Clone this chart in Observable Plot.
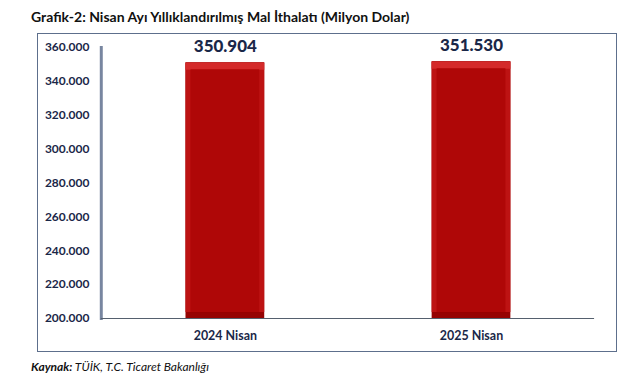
<!DOCTYPE html>
<html><head><meta charset="utf-8">
<script src="https://cdn.jsdelivr.net/npm/d3@7"></script>
<script src="https://cdn.jsdelivr.net/npm/@observablehq/plot@0.6"></script>
<style>
body{margin:0;background:#fff;font-family:Lato,"Open Sans",sans-serif;}
#title{position:absolute;left:31px;top:8px;font-size:14px;font-weight:bold;color:#111;white-space:nowrap;}
#box{position:absolute;left:37px;top:33px;width:580px;height:319px;border:1.5px solid #5d6f8c;box-sizing:border-box;}
#box svg{display:block;}
#caption{position:absolute;left:31px;top:359px;font-size:12px;font-style:italic;color:#111;white-space:nowrap;}
</style></head>
<body>
<div id="title">Grafik-2: Nisan Ayı Yıllıklandırılmış Mal İthalatı (Milyon Dolar)</div>
<div id="box"></div>
<div id="caption"><b>Kaynak:</b> TÜİK, T.C. Ticaret Bakanlığı</div>
<script>
const categories = ["2024 Nisan", "2025 Nisan"];
const values = [350904, 351530];
const yTicks = [200000, 220000, 240000, 260000, 280000, 300000, 320000, 340000, 360000];

const data = categories.map((c, i) => ({cat: c, v: values[i]}));
const fmt = v => d3.format(",")(v).replace(/,/g, ".");
const navy = "#1a2748";

const chart = Plot.plot({
  width: 580, height: 316,
  marginLeft: 63, marginRight: 22, marginTop: 13, marginBottom: 31,
  style: {fontFamily: "Lato, 'Open Sans', sans-serif", color: navy, background: "white"},
  x: {domain: categories, padding: 0, label: null},
  y: {domain: [200000, 360000], ticks: yTicks, tickFormat: fmt, label: null},
  marks: [
    Plot.rectY(data, {x: "cat", y1: 200000, y2: "v", fill: "#960303", insetLeft: 84, insetRight: 84}),
    Plot.rectY(data, {x: "cat", y1: 200000, y2: "v", fill: "#bd1313", insetLeft: 84, insetRight: 84, insetBottom: 6}),
    Plot.tickY(data, {x: "cat", y: "v", stroke: "#d42a2a", strokeWidth: 7, dy: 3.5, insetLeft: 84, insetRight: 84}),
    Plot.rectY(data, {x: "cat", y1: 200000, y2: "v", fill: "#af0707", insetLeft: 89, insetRight: 89, insetTop: 7, insetBottom: 6}),
    Plot.axisY({ticks: yTicks, tickFormat: fmt, tickSize: 0, tickPadding: 12, fontSize: 12, fontWeight: "bold", fill: navy}),
    Plot.axisX({tickSize: 0, tickPadding: 13, fontSize: 12.5, fontWeight: "bold", fill: navy}),
    Plot.frame({anchor: "left", stroke: "#7886a0", strokeWidth: 3}),
    Plot.ruleY([200000], {stroke: "#55606e", strokeWidth: 1.2}),
    Plot.text(data, {x: "cat", y: "v", text: d => fmt(d.v), dy: -16, fontSize: 17, fontWeight: "900", fill: navy})
  ]
});
document.getElementById("box").appendChild(chart);
</script>
</body></html>
